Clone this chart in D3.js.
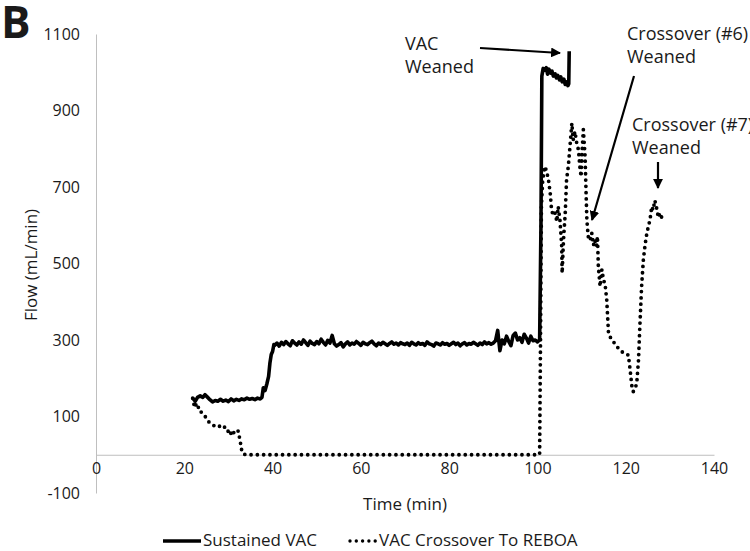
<!DOCTYPE html>
<html>
<head>
<meta charset="utf-8">
<script src="https://cdn.jsdelivr.net/npm/d3@7"></script>
<style>
  html, body { margin: 0; padding: 0; background: #fff; }
  svg { display: block; }
  text { font-family: "Open Sans", sans-serif; fill: #1a1a1a; }
</style>
</head>
<body>
<svg id="chart" width="750" height="551"></svg>
<script>
// ---- Data ----
const xTicks = [0, 20, 40, 60, 80, 100, 120, 140];
const yTicks = [-100, 100, 300, 500, 700, 900, 1100];

// Sustained VAC (time in min, flow in mL/min)
const sustainedTime = [
  21.9, 22.5, 23.0, 23.6, 24.2, 24.7, 25.3, 25.8, 26.4, 27.0, 27.6, 28.2, 28.8, 29.4, 30.0, 30.6, 31.2, 31.8, 32.4, 33.0,
  33.6, 34.2, 34.8, 35.4, 36.0, 36.6, 37.2, 37.6, 37.9, 38.3, 38.7, 39.1, 39.4, 39.7, 40.0, 40.3,
  40.5, 41.0, 41.5, 42.0, 42.5, 43.0, 43.5, 44.0, 44.5, 45.0, 45.5, 46.0, 46.5, 47.0, 47.5, 48.0, 48.5, 49.0, 49.5, 50.0,
  50.5, 51.0, 51.5, 52.0, 52.5, 53.0, 53.5, 54.0, 54.5,
  55.0, 55.5, 56.0, 56.5, 57.0, 57.5, 58.0, 58.5, 59.0, 59.5, 60.0, 60.5, 61.0, 61.5, 62.0, 62.5, 63.0, 63.5, 64.0, 64.5,
  65.0, 65.5, 66.0, 66.5, 67.0, 67.5, 68.0, 68.5, 69.0, 69.5,
  70.0, 70.5, 71.0, 71.5, 72.0, 72.5, 73.0, 73.5, 74.0, 74.5, 75.0, 75.5, 76.0, 76.5, 77.0, 77.5, 78.0, 78.5, 79.0, 79.5,
  80.0, 80.5, 81.0, 81.5, 82.0, 82.5, 83.0, 83.5, 84.0, 84.5, 85.0, 85.5, 86.0, 86.5, 87.0, 87.5, 88.0, 88.5, 89.0, 89.5,
  90.0, 90.5, 91.0, 91.5, 92.0, 92.5, 93.0, 93.5, 94.0, 94.5, 95.0, 95.5, 96.0, 96.5, 97.0, 97.5, 98.0, 98.5, 99.0, 99.5,
  100.0, 100.5, 100.8, 101.0, 101.3, 101.6, 102.0, 102.3, 102.6, 103.0, 103.3, 103.6, 104.0, 104.3, 104.6, 105.0, 105.3,
  105.6, 106.0, 106.3, 106.6, 106.9, 107.1, 107.2
];
const sustainedFlow = [
  148, 140, 150, 154, 150, 157, 150, 144, 138, 142, 140, 145, 140, 143, 139, 146, 141, 145, 142, 146,
  144, 148, 145, 147, 144, 148, 146, 150, 175, 168, 185, 205, 240, 262, 270, 288,
  286, 292, 284, 294, 288, 296, 290, 285, 298, 292, 287, 295, 289, 300, 293, 286, 297, 291, 288, 296,
  290, 302, 294, 287, 299, 292, 312, 290, 284,
  288, 293, 282, 290, 295, 287, 292, 289, 296, 291, 286, 294, 290, 288, 293, 297, 290, 285, 292, 288,
  294, 290, 286, 291, 295, 289, 292, 287, 293, 290,
  288, 292, 286, 294, 290, 287, 293, 289, 291, 286, 295, 290, 288, 284, 292, 290, 287, 293, 289, 291,
  286, 290, 294, 288, 292, 285, 290, 293, 287, 291, 289, 294, 290, 286, 292, 288, 295, 290, 293, 289,
  292, 298, 325, 272, 300, 290, 310, 296, 285, 312, 318, 300, 306, 294, 315, 305, 292, 310, 298, 300,
  295, 300, 600, 990, 1010, 1005, 1012, 995, 1008, 998, 1003, 990, 996, 985, 992, 980, 988,
  975, 982, 968, 975, 965, 970, 1055
];

// VAC Crossover To REBOA
const crossoverTime = [
  21.9, 22.2, 22.5, 22.8, 23.3, 23.8, 24.5, 25.2, 25.8, 26.5, 27.2, 27.9, 28.6, 29.3, 29.8, 30.3, 30.7, 31.2, 31.7, 32.2,
  32.6, 33.0, 33.4, 34.0, 100.3, 100.5, 100.7, 100.9, 101.2, 101.7, 102.1, 102.5, 102.9, 103.2, 103.6, 104.0, 104.4,
  104.7, 105.1, 105.3, 105.5, 105.6, 105.9, 106.3, 106.6, 107.0, 107.4, 107.8, 108.1, 108.5, 108.9, 109.3, 109.6, 109.9,
  110.1, 110.4, 110.8, 111.0, 111.2, 111.5, 111.9, 112.3, 112.7, 113.0, 113.4, 113.6, 113.8, 114.2, 114.6, 115.0, 115.3,
  115.7, 115.9, 116.1, 116.4, 117.2, 117.8, 118.3, 118.9, 119.5, 120.1, 120.6, 121.0, 121.4, 121.7, 122.1, 122.5, 122.9,
  123.2, 123.6, 124.0, 124.4, 124.8, 125.2, 125.5, 125.9, 126.2, 126.6, 127.0, 127.4, 127.8, 128.2
];
const crossoverFlow = [
  148, 131, 138, 120, 125, 112, 104, 92, 82, 78, 72, 74, 78, 70, 60, 66, 50, 58, 54, 62,
  40, 12, 2, 0, 0, 2, 300, 650, 720, 754, 740, 719, 684, 640, 625, 632, 610,
  649, 614, 580, 545, 475, 560, 632, 719, 754, 810, 867, 823, 845, 815, 797, 754, 727,
  790, 850, 780, 693, 614, 571, 560, 580, 548, 562, 545, 571, 492, 440, 484, 455, 449,
  405, 362, 318, 309, 296, 285, 279, 272, 266, 262, 261, 222, 179, 165, 172, 187, 248,
  335, 440, 510, 550, 580, 600, 614, 649, 640, 665, 645, 620, 632, 619
];

const legendLabels = ["Sustained VAC", "VAC Crossover To REBOA"];

// ---- Drawing ----
const svg = d3.select("#chart");
const x = d3.scaleLinear().domain([0, 140]).range([96, 714]);
const y = d3.scaleLinear().domain([-100, 1100]).range([493, 34]);
const axisColor = "#bfbfbf";
const tickFont = 16;
const fmt = d => (d < 0 ? "-" : "") + Math.abs(d);

// Y axis
const gy = svg.append("g").attr("transform", `translate(${x(0)},0)`)
  .call(d3.axisLeft(y).tickValues(yTicks).tickFormat(fmt).tickSize(0).tickSizeOuter(0).tickPadding(16));
gy.select(".domain").attr("stroke", axisColor).attr("stroke-width", 1);
gy.selectAll("text").attr("font-size", tickFont).attr("font-family", "Open Sans").attr("fill", "#1a1a1a");

// X axis along zero
const gx = svg.append("g").attr("transform", `translate(0,${y(0)})`)
  .call(d3.axisBottom(x).tickValues(xTicks).tickFormat(fmt).tickSize(0).tickSizeOuter(0).tickPadding(16));
gx.select(".domain").attr("stroke", axisColor).attr("stroke-width", 1);
gx.selectAll("text").attr("font-size", tickFont).attr("font-family", "Open Sans").attr("fill", "#1a1a1a")
  .attr("dy", "0.2em");

// Lines
const sustained = sustainedTime.map((t, i) => [t, sustainedFlow[i]]);
const crossover = crossoverTime.map((t, i) => [t, crossoverFlow[i]]);
const line = d3.line().x(d => x(d[0])).y(d => y(d[1]));

svg.append("path").datum(sustained).attr("d", line)
  .attr("fill", "none").attr("stroke", "#000").attr("stroke-width", 3.6)
  .attr("stroke-linejoin", "round");

svg.append("path").datum(crossover).attr("d", line)
  .attr("fill", "none").attr("stroke", "#000").attr("stroke-width", 3.8)
  .attr("stroke-linecap", "round").attr("stroke-dasharray", "0 6.3");

// Axis titles
svg.append("text").attr("x", 405).attr("y", 505).attr("text-anchor", "middle")
  .attr("dominant-baseline", "middle").attr("font-size", 17).text("Time (min)");
svg.append("text").attr("transform", "translate(32,265) rotate(-90)").attr("text-anchor", "middle")
  .attr("dominant-baseline", "middle").attr("font-size", 17).text("Flow (mL/min)");

// Panel letter
svg.append("text").attr("x", 1).attr("y", 38).attr("font-size", 44).attr("font-weight", 700)
  .attr("fill", "#000").text("B");

// Annotations
const defs = svg.append("defs");
defs.append("marker").attr("id", "arrow").attr("viewBox", "0 0 10 10")
  .attr("refX", 9).attr("refY", 5).attr("markerWidth", 4.5).attr("markerHeight", 4.5)
  .attr("markerUnits", "strokeWidth").attr("orient", "auto")
  .append("path").attr("d", "M0,0 L10,5 L0,10 z").attr("fill", "#000");

function annot(lines, tx, ty) {
  lines.forEach((s, i) => {
    svg.append("text").attr("x", tx).attr("y", ty + i * 23).attr("font-size", 18)
      .attr("dominant-baseline", "middle").text(s);
  });
}
function arrow(x1, y1, x2, y2) {
  svg.append("line").attr("x1", x1).attr("y1", y1).attr("x2", x2).attr("y2", y2)
    .attr("stroke", "#000").attr("stroke-width", 2.2).attr("marker-end", "url(#arrow)");
}
annot(["VAC", "Weaned"], 405, 45);
arrow(480, 48, 560, 53);
annot(["Crossover (#6)", "Weaned"], 627, 35);
arrow(634, 76, 592, 220);
annot(["Crossover (#7)", "Weaned"], 632, 126);
arrow(658, 162, 658, 188);

// Legend
const ly = 541;
svg.append("line").attr("x1", 163).attr("x2", 201).attr("y1", ly).attr("y2", ly)
  .attr("stroke", "#000").attr("stroke-width", 3.4);
svg.append("text").attr("x", 203).attr("y", ly).attr("dominant-baseline", "middle")
  .attr("font-size", 17).text(legendLabels[0]);
svg.append("line").attr("x1", 350).attr("x2", 376).attr("y1", ly).attr("y2", ly)
  .attr("stroke", "#000").attr("stroke-width", 3.4).attr("stroke-linecap", "round")
  .attr("stroke-dasharray", "0 6.3");
svg.append("text").attr("x", 379).attr("y", ly).attr("dominant-baseline", "middle")
  .attr("font-size", 17).text(legendLabels[1]);
</script>
</body>
</html>
